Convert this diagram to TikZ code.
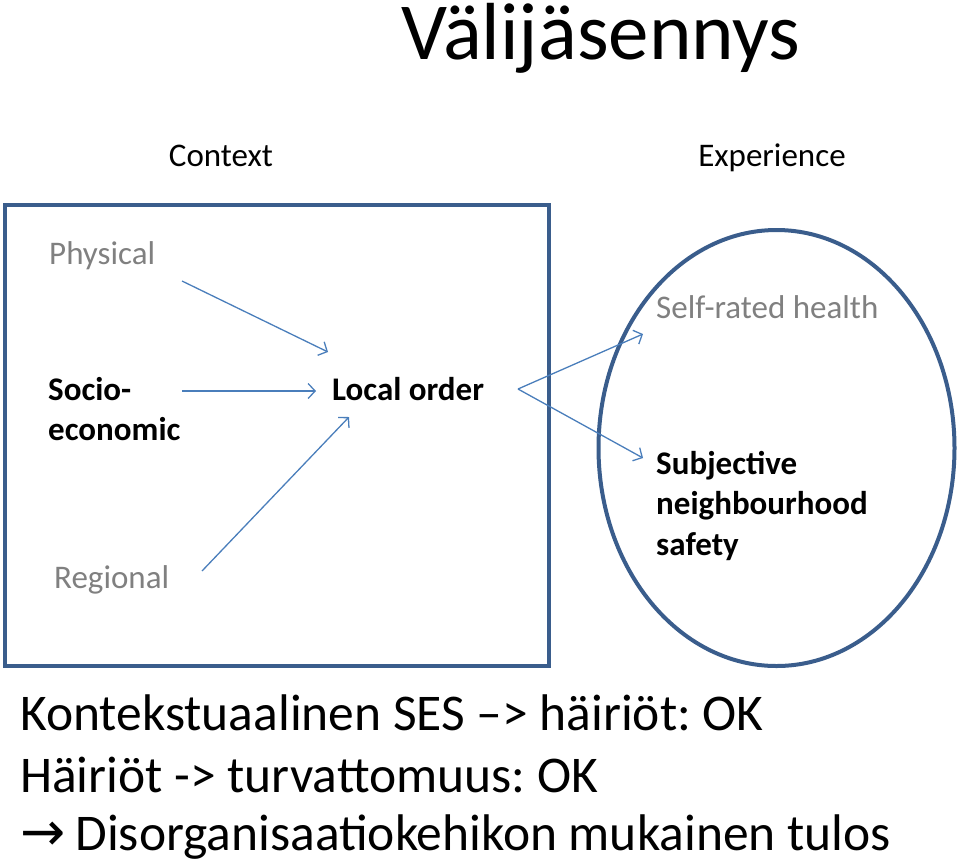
\documentclass[tikz,border=0pt]{standalone}
\usepackage{fontspec}
\setmainfont{Carlito}
\newfontfamily\symfont{DejaVu Sans}
\usetikzlibrary{arrows.meta}
\frenchspacing

\definecolor{frameblue}{HTML}{3A5D8C}
\definecolor{arrowblue}{HTML}{4A7EBB}
\definecolor{softgray}{HTML}{808080}

\begin{document}
\begin{tikzpicture}[x=1pt, y=-1pt, >={Straight Barb[length=7pt,width=15pt]},
  lbl/.style={anchor=base west, inner sep=0pt, font=\fontsize{33}{40}\selectfont},
  dim/.style={lbl, text=softgray},
  strong/.style={lbl, font=\fontsize{33}{40}\selectfont\bfseries},
  link/.style={->, draw=arrowblue, line width=1.3pt},
  big/.style={anchor=base west, inner sep=0pt, font=\fontsize{51.5}{62}\selectfont}]
\useasboundingbox (0,0) rectangle (960,863);
\node[anchor=base, inner sep=0pt, font=\fontsize{81}{90}\selectfont] (title) at (601,59) {Välijäsennys};
\node[lbl, anchor=base] (context) at (221,166) {Context};
\node[lbl, anchor=base] (experience) at (772,166) {Experience};
% context box and experience ellipse
\draw[frameblue, line width=4pt] (4.5,205) rectangle (549,666);
\draw[frameblue, line width=4pt] (776.5,448) ellipse (178 and 218);
\node[dim] (physical) at (49,264) {Physical};
\node[strong] (socio) at (48,400) {Socio-};
\node[strong] (economic) at (48,440) {economic};
\node[dim] (regional) at (54,588) {Regional};
\node[strong] (local) at (332,400) {Local order};
\node[dim] (health) at (656,318) {Self-rated health};
\node[strong] (subj) at (656,474) {Subjective};
\node[strong] (neigh) at (656,514) {neighbourhood};
\node[strong] (safety) at (656,555) {safety};
% arrow end points
\coordinate (physout) at (182,281);
\coordinate (socout) at (182,391);
\coordinate (regout) at (202,571);
\coordinate (locin1) at (328,352);
\coordinate (locin2) at (316,391);
\coordinate (locin3) at (349,417);
\coordinate (locout) at (518,389);
\coordinate (healthin) at (643,334);
\coordinate (safetyin) at (643,458);
\draw[link] (physout) -- (locin1);
\draw[link] (socout) -- (locin2);
\draw[link] (regout) -- (locin3);
\draw[link] (locout) -- (healthin);
\draw[link] (locout) -- (safetyin);
% conclusions
\node[big] (line1) at (20,730) {Kontekstuaalinen SES –> häiriöt: OK};
\node[big] (line2) at (20,792) {Häiriöt -> turvattomuus: OK};
\node[big] (line3) at (20,850) {{\symfont\fontsize{54}{60}\selectfont →}\hspace{10pt}Disorganisaatiokehikon mukainen tulos};
\end{tikzpicture}
\end{document}
